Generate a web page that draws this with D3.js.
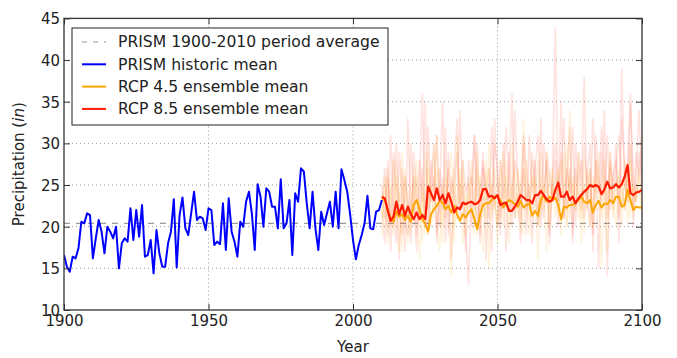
<!DOCTYPE html>
<html><head><meta charset="utf-8">
<script src="https://cdn.jsdelivr.net/npm/d3@7"></script>
<style>
html,body{margin:0;padding:0;background:#fff;}
svg{display:block;font-family:"DejaVu Sans",sans-serif;}
</style></head>
<body><svg id="c" width="677" height="358"></svg>
<script>
// ---- data ----
const histStart = 1900;
const historic = [16.6,15.2,14.6,16.4,16.2,17.4,20.6,20.4,21.6,21.4,
16.2,18.6,20.8,19.4,16.8,20.0,19.4,18.6,20.0,15.0,
18.0,18.6,18.2,22.2,18.4,22.0,18.8,22.6,16.4,16.6,
18.4,14.4,19.6,16.8,15.2,15.2,18.0,19.4,23.3,15.1,
21.4,23.5,19.8,19.0,21.6,24.2,20.8,21.2,21.0,19.6,
22.2,22.0,17.8,18.2,17.9,22.8,17.2,23.4,19.4,18.2,
16.4,20.6,20.0,23.0,24.2,21.6,17.2,25.1,23.6,20.0,
24.6,24.2,22.4,22.4,19.8,25.7,19.8,20.4,23.2,16.6,
24.0,23.0,27.0,26.6,22.8,19.8,24.2,19.8,17.2,21.8,
20.2,21.6,23.0,20.0,24.2,19.8,26.9,25.6,24.2,21.5,
18.4,16.1,17.8,19.0,20.4,23.7,19.8,19.7,21.8,22.0,23.2];

const projStart = 2010;
const rcp85 = [23.6,23.4,22.0,20.7,21.2,23.0,21.5,22.6,21.3,22.4,
21.5,20.9,21.7,20.9,21.4,20.9,24.8,24.0,23.2,24.6,
23.2,23.8,22.8,24.0,23.0,21.7,22.3,22.1,22.9,22.7,
22.9,23.0,22.7,22.8,23.2,24.5,24.5,23.6,23.7,23.4,
23.8,22.6,22.8,22.9,21.9,21.9,22.4,23.0,23.8,23.5,
23.2,23.2,22.8,23.8,23.8,24.3,23.8,23.3,23.0,23.2,
24.4,25.3,23.6,23.6,24.2,23.2,23.6,22.8,23.4,23.8,
24.2,24.5,25.0,24.8,25.0,24.8,23.9,24.5,25.4,24.6,
24.7,25.1,24.7,25.1,26.0,27.4,24.0,23.8,24.1,24.2,24.4];

const rcp45 = [23.5,23.2,22.0,21.0,20.6,21.8,21.2,21.5,20.8,21.3,
20.6,22.6,23.2,22.1,20.9,20.3,19.4,21.5,22.1,22.5,
23.1,22.9,22.1,22.5,21.7,22.5,21.5,20.7,21.5,21.1,
21.7,22.1,20.9,19.7,21.5,22.6,22.8,22.8,23.2,23.6,
23.7,23.1,22.3,22.8,23.2,23.0,22.7,22.4,23.1,22.3,
22.6,22.8,21.3,21.9,21.3,23.2,23.8,23.0,23.6,23.2,
23.5,22.6,20.9,22.4,22.3,22.6,22.6,23.0,23.2,23.6,
23.0,22.8,23.2,21.7,22.6,23.1,22.3,22.8,22.7,23.2,
22.8,23.6,23.6,22.4,22.6,24.4,23.2,22.0,22.4,22.3,22.3];

// individual ensemble members (faint), read approximately
const members85 = [
[23,27,19,31,22,18,29,24,17,33,21,26,19,28,23,35,20,25,30,18,27,22,32,19,26,24,21,34,23,17,28,25,31,20,24,29,16,27,22,33,25,19,30,23,26,36,21,24,18,31,27,22,29,25,20,33,24,28,19,26,30,23,35,21,27,24,32,20,29,25,38,22,27,19,31,26,23,34,21,28,25,30,18,33,27,24,36,22,29,26,31],
[22,18,26,20,29,24,16,27,21,19,30,23,17,25,36,22,19,28,24,31,20,26,18,29,23,27,33,21,25,19,13,26,22,30,18,27,24,21,32,23,20,28,25,17,29,22,34,26,21,27,19,31,24,28,22,20,30,26,18,25,44,23,29,21,26,32,19,27,24,22,30,25,20,33,27,15,29,24,31,22,26,28,21,39,25,23,30,20,27,34,24],
[25,21,28,17,24,30,22,19,26,23,18,29,24,21,27,20,32,23,26,19,24,35,21,27,16,25,29,22,28,24,26,20,31,24,19,28,25,23,17,30,27,21,25,32,24,20,28,26,23,30,22,25,18,27,31,24,21,29,26,23,28,20,26,33,22,27,18,30,25,28,21,26,30,17,28,24,32,27,14,29,23,27,31,25,22,28,35,26,23,29,25]
];
const members45 = [
[21,25,18,23,28,20,24,17,26,22,19,27,23,16,25,21,29,20,24,31,22,18,26,23,14,27,21,24,28,19,23,26,20,29,22,17,25,27,21,24,18,28,23,26,20,30,22,25,19,27,24,21,28,23,16,26,22,29,20,25,23,27,19,24,30,21,26,22,25,18,28,23,20,26,24,29,21,25,17,27,22,26,24,20,28,23,30,21,25,24,22],
[24,20,27,22,19,26,23,29,21,18,25,22,28,20,24,19,27,23,30,22,17,25,21,26,29,20,23,27,18,24,22,28,25,19,26,23,21,30,24,27,20,23,29,22,18,25,27,21,24,33,23,19,26,24,28,21,25,17,27,23,26,22,24,29,20,34,23,26,21,25,19,27,24,22,28,25,15,26,23,29,21,24,27,22,26,20,28,24,23,27,21],
[19,26,22,25,20,28,17,24,27,21,23,20,26,24,18,29,22,25,21,27,24,20,28,22,25,18,31,23,26,21,25,22,19,27,24,21,28,15,25,22,26,24,20,28,22,25,21,27,23,19,28,24,22,26,20,29,23,25,22,27,21,25,28,23,20,26,24,22,29,21,25,23,27,20,26,22,24,28,21,25,23,20,26,24,22,27,21,25,23,26,23]
];

const prismAvg = 20.4;
const xTicks = [1900,1950,2000,2050,2100];
const yTicks = [10,15,20,25,30,35,40,45];
const legendLabels = ["PRISM 1900-2010 period average","PRISM historic mean","RCP 4.5 ensemble mean","RCP 8.5 ensemble mean"];
const xLabel = "Year";

// ---- layout ----
const L=64, R=642, T=18.4, B=310;
const svg = d3.select("#c");
const x = d3.scaleLinear().domain([1900,2100]).range([L,R]);
const y = d3.scaleLinear().domain([10,45]).range([B,T]);
const ink = "#222";

// grid
const g = svg.append("g");
g.selectAll("line.gx").data(xTicks.slice(1,-1)).join("line")
  .attr("x1",d=>x(d)).attr("x2",d=>x(d)).attr("y1",T).attr("y2",B)
  .attr("stroke","#999").attr("stroke-width",1).attr("stroke-dasharray","1,3");
g.selectAll("line.gy").data(yTicks.slice(1,-1)).join("line")
  .attr("x1",L).attr("x2",R).attr("y1",d=>y(d)).attr("y2",d=>y(d))
  .attr("stroke","#999").attr("stroke-width",1).attr("stroke-dasharray","1,3");

// average line
svg.append("line").attr("x1",x(1900)).attr("x2",x(2100))
  .attr("y1",y(prismAvg)).attr("y2",y(prismAvg))
  .attr("stroke","#9a9a9a").attr("stroke-width",1.2).attr("stroke-dasharray","6,6");

const lineGen = start => d3.line().x((d,i)=>x(start+i)).y(d=>y(d));

svg.append("clipPath").attr("id","pc").append("rect")
  .attr("x",L).attr("y",T).attr("width",R-L).attr("height",B-T);
const pg = svg.append("g").attr("clip-path","url(#pc)");

members85.forEach(m=>pg.append("path").datum(m).attr("d",lineGen(projStart))
  .attr("fill","none").attr("stroke","#ff3a1a").attr("stroke-opacity",0.14).attr("stroke-width",1.6));
members45.forEach(m=>pg.append("path").datum(m).attr("d",lineGen(projStart))
  .attr("fill","none").attr("stroke","#ffa500").attr("stroke-opacity",0.13).attr("stroke-width",1.6));

pg.append("path").datum(historic).attr("d",lineGen(histStart))
  .attr("fill","none").attr("stroke","#0000ff").attr("stroke-width",2).attr("stroke-linejoin","round");
pg.append("path").datum(rcp45).attr("d",lineGen(projStart))
  .attr("fill","none").attr("stroke","#ffa500").attr("stroke-width",2).attr("stroke-linejoin","round");
pg.append("path").datum(rcp85).attr("d",lineGen(projStart))
  .attr("fill","none").attr("stroke","#ff1a00").attr("stroke-width",2.2).attr("stroke-linejoin","round");

// axes (inward ticks)
const fs = 15;
const ax = svg.append("g").attr("transform",`translate(0,${B})`)
  .call(d3.axisBottom(x).tickValues(xTicks).tickFormat(d3.format("d")).tickSize(-6).tickPadding(5));
const ay = svg.append("g").attr("transform",`translate(${L},0)`)
  .call(d3.axisLeft(y).tickValues(yTicks).tickSize(-6).tickPadding(4));
const at = svg.append("g").attr("transform",`translate(0,${T})`)
  .call(d3.axisTop(x).tickValues(xTicks).tickFormat("").tickSize(-6));
const ar = svg.append("g").attr("transform",`translate(${R},0)`)
  .call(d3.axisRight(y).tickValues(yTicks).tickFormat("").tickSize(-6));
[ax,ay,at,ar].forEach(a=>{
  a.select(".domain").remove();
  a.selectAll("line").attr("stroke","#333");
  a.selectAll("text").attr("fill",ink).attr("font-size",fs).attr("font-family","DejaVu Sans");
});
ay.selectAll("text").attr("dy","0.36em");

// frame
svg.append("rect").attr("x",L).attr("y",T).attr("width",R-L).attr("height",B-T)
  .attr("fill","none").attr("stroke","#333").attr("stroke-width",1.3);

// axis labels
svg.append("text").attr("x",(L+R)/2).attr("y",352).attr("text-anchor","middle")
  .attr("font-size",fs).attr("fill",ink).text(xLabel);
const yl = svg.append("text").attr("transform",`translate(24,${(T+B)/2}) rotate(-90)`)
  .attr("text-anchor","middle").attr("font-size",fs).attr("fill",ink);
yl.append("tspan").text("Precipitation (");
yl.append("tspan").attr("font-style","italic").text("in");
yl.append("tspan").text(")");

// legend
const lg = svg.append("g");
lg.append("rect").attr("x",72).attr("y",28).attr("width",316).attr("height",97)
  .attr("fill","#fff").attr("stroke","#222").attr("stroke-width",1);
const legStyles = [
  {c:"#9a9a9a",dash:"5,6",w:1.2},
  {c:"#0000ff",dash:null,w:2},
  {c:"#ffa500",dash:null,w:2},
  {c:"#ff1a00",dash:null,w:2}
];
legendLabels.forEach((t,i)=>{
  const cy = 42 + i*22.3;
  lg.append("line").attr("x1",82).attr("x2",106).attr("y1",cy).attr("y2",cy)
    .attr("stroke",legStyles[i].c).attr("stroke-width",legStyles[i].w)
    .attr("stroke-dasharray",legStyles[i].dash);
  lg.append("text").attr("x",118).attr("y",cy).attr("dy","0.35em")
    .attr("font-size",15.6).attr("fill",ink).text(t);
});
</script></body></html>
